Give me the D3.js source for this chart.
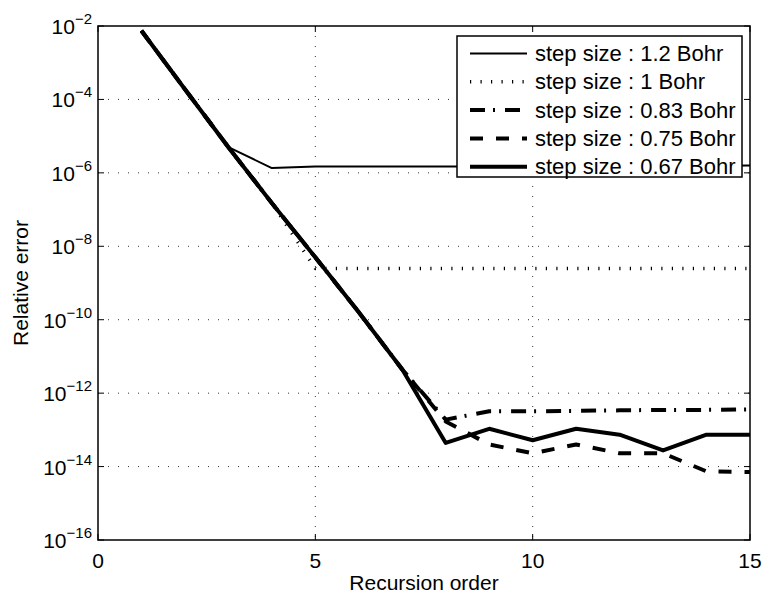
<!DOCTYPE html>
<html>
<head>
<meta charset="utf-8">
<script src="https://cdn.jsdelivr.net/npm/d3@7"></script>
<style>
  body { margin: 0; background: #fff; }
  svg { display: block; font-family: "Liberation Sans", Arial, sans-serif; }
</style>
</head>
<body>
<svg id="chart" width="763" height="596"></svg>
<script>
// recursion order on the x axis
const order = [1, 2, 3, 4, 5, 6, 7, 8, 9, 10, 11, 12, 13, 14, 15]

// relative error per step size
const step12 = [7.4e-3, 1.9e-4, 5.0e-6, 1.35e-6, 1.48e-6, 1.5e-6, 1.5e-6, 1.5e-6, 1.5e-6, 1.52e-6, 1.52e-6, 1.54e-6, 1.55e-6, 1.56e-6, 1.58e-6]
const step10 = [7.4e-3, 1.9e-4, 5.0e-6, 1.5e-7, 2.5e-9, 2.5e-9, 2.5e-9, 2.5e-9, 2.5e-9, 2.5e-9, 2.5e-9, 2.5e-9, 2.5e-9, 2.5e-9, 2.5e-9]
const step083 = [7.4e-3, 1.9e-4, 5.0e-6, 1.5e-7, 5.0e-9, 1.6e-10, 4.4e-12, 1.9e-13, 3.2e-13, 3.2e-13, 3.3e-13, 3.4e-13, 3.5e-13, 3.5e-13, 3.6e-13]
const step075 = [7.4e-3, 1.9e-4, 5.0e-6, 1.5e-7, 5.0e-9, 1.6e-10, 4.4e-12, 1.7e-13, 4.0e-14, 2.3e-14, 4.0e-14, 2.3e-14, 2.3e-14, 7.4e-15, 7.1e-15]
const step067 = [7.4e-3, 1.9e-4, 5.0e-6, 1.5e-7, 5.0e-9, 1.6e-10, 4.4e-12, 4.4e-14, 1.07e-13, 5.2e-14, 1.07e-13, 7.4e-14, 2.75e-14, 7.4e-14, 7.4e-14]

const seriesNames = ["step size : 1.2 Bohr", "step size : 1 Bohr", "step size : 0.83 Bohr", "step size : 0.75 Bohr", "step size : 0.67 Bohr"]
const xTicks = [0, 5, 10, 15]
const yTickExps = [-16, -14, -12, -10, -8, -6, -4, -2]

const series = [
    {name: seriesNames[0], values: step12, width: 2, dash: null},
    {name: seriesNames[1], values: step10, width: 3.5, dash: "1.2,9.3"},
    {name: seriesNames[2], values: step083, width: 4, dash: "15,8,2,10"},
    {name: seriesNames[3], values: step075, width: 4, dash: "13,13"},
    {name: seriesNames[4], values: step067, width: 4, dash: null}
]

const svg = d3.select("#chart")
const margin = {top: 26, right: 13, bottom: 56, left: 98}
const width = svg.attr("width") - margin.left - margin.right
const height = svg.attr("height") - margin.top - margin.bottom
const g = svg.append("g").attr("transform", "translate(" + margin.left + "," + margin.top + ")")

const x = d3.scaleLinear().domain([0, 15]).range([0, width])
const y = d3.scaleLog().domain([1e-16, 1e-2]).range([height, 0])

// dotted grid
g.selectAll(".vgrid")
    .data(xTicks.filter(d => d > 0 && d < 15))
    .enter().append("line")
    .attr("x1", d => x(d)).attr("x2", d => x(d))
    .attr("y1", 0).attr("y2", height)
    .attr("stroke", "#333").attr("stroke-width", 1)
    .attr("stroke-dasharray", "1,9")

g.selectAll(".hgrid")
    .data(yTickExps.filter(e => e > -16 && e < -2))
    .enter().append("line")
    .attr("x1", 0).attr("x2", width)
    .attr("y1", e => y(Math.pow(10, e))).attr("y2", e => y(Math.pow(10, e)))
    .attr("stroke", "#333").attr("stroke-width", 1)
    .attr("stroke-dasharray", "1,9")

// inward ticks on all four sides
const tickLen = 6
xTicks.forEach(function(d) {
    g.append("line").attr("x1", x(d)).attr("x2", x(d)).attr("y1", height).attr("y2", height - tickLen).attr("stroke", "#000")
    g.append("line").attr("x1", x(d)).attr("x2", x(d)).attr("y1", 0).attr("y2", tickLen).attr("stroke", "#000")
})
yTickExps.forEach(function(e) {
    const yy = y(Math.pow(10, e))
    g.append("line").attr("x1", 0).attr("x2", tickLen).attr("y1", yy).attr("y2", yy).attr("stroke", "#000")
    g.append("line").attr("x1", width).attr("x2", width - tickLen).attr("y1", yy).attr("y2", yy).attr("stroke", "#000")
})

// tick labels
g.selectAll(".xlabel")
    .data(xTicks)
    .enter().append("text")
    .attr("x", d => x(d))
    .attr("y", height + 28)
    .attr("text-anchor", "middle")
    .style("font-size", "21px")
    .text(d => d)

const ylab = g.selectAll(".ylabel")
    .data(yTickExps)
    .enter().append("text")
    .attr("x", -6)
    .attr("y", e => y(Math.pow(10, e)) + 8)
    .attr("text-anchor", "end")
    .style("font-size", "21px")
ylab.append("tspan").text("10")
ylab.append("tspan")
    .attr("dy", -10)
    .style("font-size", "15px")
    .text(e => "\u2212" + Math.abs(e))

// axis titles
svg.append("text")
    .attr("x", margin.left + width / 2)
    .attr("y", 590)
    .attr("text-anchor", "middle")
    .style("font-size", "21px")
    .text("Recursion order")

svg.append("text")
    .attr("transform", "translate(28," + (margin.top + height / 2) + ") rotate(-90)")
    .attr("text-anchor", "middle")
    .style("font-size", "21px")
    .text("Relative error")

// lines
const line = d3.line()
    .x((d, i) => x(order[i]))
    .y(d => y(d))

series.forEach(function(s) {
    const p = g.append("path")
        .attr("d", line(s.values))
        .attr("fill", "none")
        .attr("stroke", "#000")
        .attr("stroke-width", s.width)
        .attr("stroke-linejoin", "round")
    if (s.dash) p.attr("stroke-dasharray", s.dash)
})

// axes box
g.append("rect")
    .attr("width", width).attr("height", height)
    .attr("fill", "none").attr("stroke", "#000").attr("stroke-width", 1.5)

// legend
const legend = svg.append("g").attr("transform", "translate(457,36)")
legend.append("rect")
    .attr("width", 285).attr("height", 141)
    .attr("fill", "#fff").attr("stroke", "#000").attr("stroke-width", 1.5)

const item = legend.selectAll(".item")
    .data(series)
    .enter().append("g")
    .attr("transform", (d, i) => "translate(0," + (17.5 + i * 28.3) + ")")

item.append("line")
    .attr("x1", 13).attr("x2", 70)
    .attr("stroke", "#000")
    .attr("stroke-width", d => d.width)
    .attr("stroke-dasharray", d => d.dash)

item.append("text")
    .attr("x", 78)
    .attr("y", 7.5)
    .style("font-size", "22px")
    .text(d => d.name)
</script>
</body>
</html>
